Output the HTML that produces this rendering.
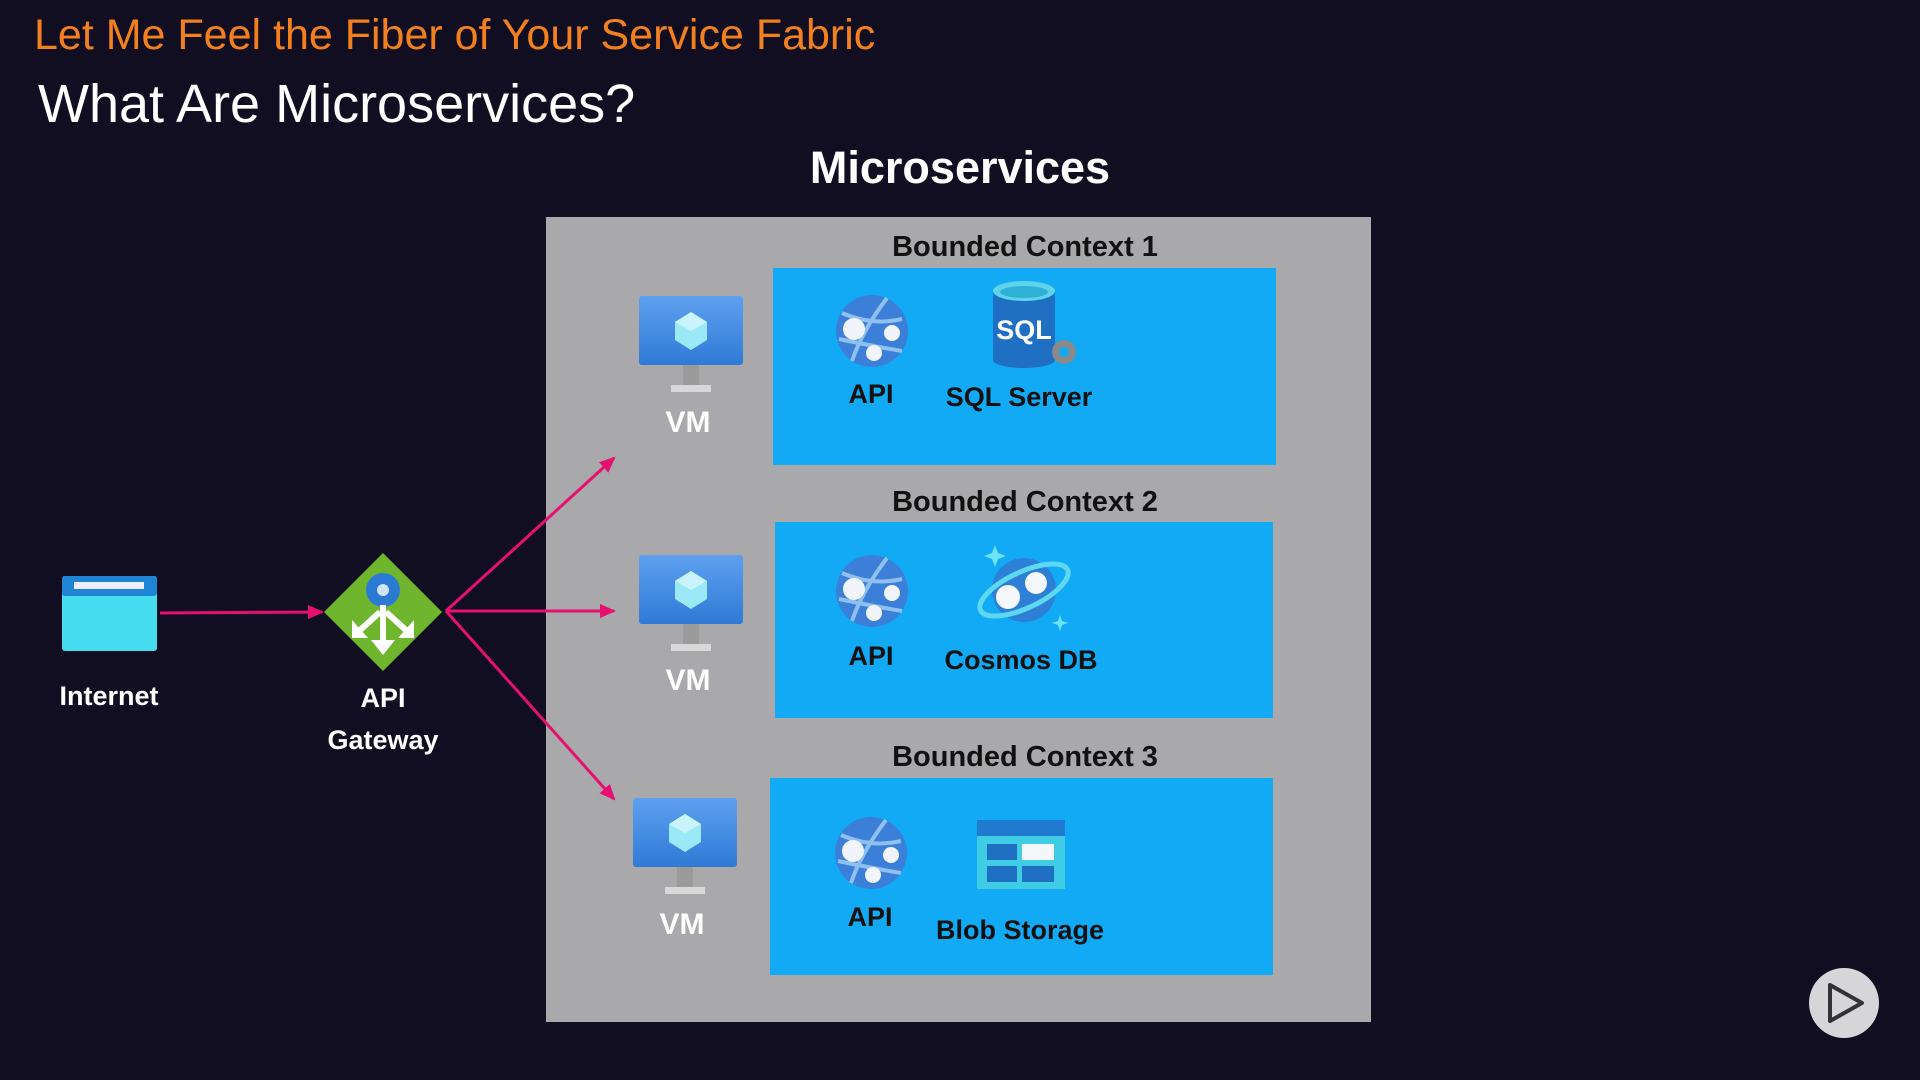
<!DOCTYPE html>
<html><head><meta charset="utf-8"><style>
body{margin:0;width:1920px;height:1080px;background:#120e22;overflow:hidden;font-family:"Liberation Sans",sans-serif;position:relative}
.t{position:absolute;white-space:nowrap}
.c{transform:translateX(-50%)}
.box{position:absolute;background:#12a9f5}
.lbl{font-weight:bold;font-size:27px;color:#111}
.w{font-weight:bold;font-size:27px;color:#fff}
</style></head><body>
<div class="t" style="left:34px;top:11px;font-size:43px;color:#f2801e">Let Me Feel the Fiber of Your Service Fabric</div>
<div class="t" style="left:38px;top:73px;font-size:54px;color:#fff">What Are Microservices?</div>
<div class="t c" style="left:960px;top:142px;font-size:45px;font-weight:bold;color:#fff">Microservices</div>
<div style="position:absolute;left:546px;top:217px;width:825px;height:805px;background:#a9a8ab"></div>
<div class="box" style="left:773px;top:268px;width:503px;height:197px"></div>
<div class="box" style="left:775px;top:522px;width:498px;height:196px"></div>
<div class="box" style="left:770px;top:778px;width:503px;height:197px"></div>
<div class="t c lbl" style="left:1025px;top:231px;font-size:29px">Bounded Context 1</div>
<div class="t c lbl" style="left:1025px;top:486px;font-size:29px">Bounded Context 2</div>
<div class="t c lbl" style="left:1025px;top:741px;font-size:29px">Bounded Context 3</div>
<svg width="1920" height="1080" style="position:absolute;left:0;top:0">
<defs>
<marker id="a" markerWidth="16" markerHeight="16" refX="14" refY="8" orient="auto" markerUnits="userSpaceOnUse"><path d="M0,1 L16,8 L0,15z" fill="#e5106f"/></marker>
<linearGradient id="vm" x1="0" y1="0" x2="0" y2="1"><stop offset="0" stop-color="#5ea0ef"/><stop offset="1" stop-color="#2f7ad6"/></linearGradient>
<g id="vmi"><rect x="0" y="0" width="104" height="69" rx="3" fill="url(#vm)"/><path d="M52,16 L68,26 L68,44 L52,54 L36,44 L36,26z" fill="#9be8f7"/><path d="M52,16 L68,26 L52,35 L36,26z" fill="#c9f4fb"/><rect x="44" y="69" width="16" height="22" fill="#9a9a9a"/><rect x="32" y="89" width="40" height="7" fill="#d8d8d8"/></g>
<g id="api"><circle r="36" fill="#3b7fd8"/><path d="M-30,-18 Q0,-5 30,-12 M-20,30 Q-10,0 15,-33 M-33,8 Q0,15 30,20" stroke="#8fc0f0" stroke-width="4" fill="none"/><circle cx="-18" cy="-2" r="11" fill="#f1f5fb"/><circle cx="20" cy="2" r="8" fill="#f1f5fb"/><circle cx="2" cy="22" r="8" fill="#f1f5fb"/></g>
</defs>
<g stroke="#e5106f" stroke-width="3" fill="none">
<line x1="160" y1="613" x2="322" y2="612" marker-end="url(#a)"/>
<line x1="446" y1="611" x2="614" y2="458" marker-end="url(#a)"/>
<line x1="446" y1="611" x2="614" y2="611" marker-end="url(#a)"/>
<line x1="446" y1="611" x2="614" y2="799" marker-end="url(#a)"/>
</g>
<rect x="62" y="576" width="95" height="75" rx="3" fill="#45dcf0"/><rect x="62" y="576" width="95" height="20" rx="3" fill="#1f84d4"/><rect x="74" y="582" width="70" height="7" fill="#eef"/>
<path d="M383,553 L442,612 L383,671 L324,612z" fill="#6fb62e"/>
<circle cx="383" cy="590" r="17" fill="#2a7ad4"/><circle cx="383" cy="590" r="6" fill="#cfe3fa"/>
<g stroke="#fff" stroke-width="6" fill="none"><line x1="383" y1="605" x2="383" y2="645"/><line x1="380" y1="612" x2="358" y2="632"/><line x1="386" y1="612" x2="408" y2="632"/></g>
<path d="M371,640 L395,640 L383,655z M352,620 L352,638 L368,638z M414,620 L414,638 L398,638z" fill="#fff"/>
<use href="#vmi" x="639" y="296"/><use href="#vmi" x="639" y="555"/><use href="#vmi" x="633" y="798"/>
<use href="#api" x="872" y="331"/><use href="#api" x="872" y="591"/><use href="#api" x="871" y="853"/>
<rect x="993" y="290" width="62" height="70" fill="#1f6fc2"/><ellipse cx="1024" cy="360" rx="31" ry="8" fill="#1f6fc2"/><ellipse cx="1024" cy="291" rx="31" ry="10" fill="#5fd3ea"/><ellipse cx="1024" cy="292" rx="24" ry="6" fill="#2fb0d6"/>
<text x="1024" y="339" font-family="Liberation Sans" font-weight="bold" font-size="27" fill="#fff" text-anchor="middle">SQL</text>
<circle cx="1064" cy="352" r="12" fill="#8a8a8a"/><circle cx="1064" cy="352" r="5" fill="#12a9f5"/>
<circle cx="1024" cy="590" r="32" fill="#2e7fd6"/><ellipse cx="1024" cy="590" rx="48" ry="18" transform="rotate(-25 1024 590)" stroke="#5ed7f0" stroke-width="5" fill="none"/><circle cx="1008" cy="597" r="12" fill="#f4f7fb"/><circle cx="1036" cy="583" r="11" fill="#f4f7fb"/>
<path d="M995,545 l3,8 8,3 -8,3 -3,8 -3,-8 -8,-3 8,-3z M1060,615 l2,6 6,2 -6,2 -2,6 -2,-6 -6,-2 6,-2z" fill="#6ee3f5"/>
<rect x="977" y="820" width="88" height="69" fill="#3fcde5"/><rect x="977" y="820" width="88" height="16" fill="#1f7ad0"/><rect x="987" y="844" width="30" height="16" fill="#1f6fc2"/><rect x="1022" y="844" width="32" height="16" fill="#f3f7fb"/><rect x="987" y="866" width="30" height="16" fill="#1f6fc2"/><rect x="1022" y="866" width="32" height="16" fill="#1f6fc2"/>
<circle cx="1844" cy="1003" r="35" fill="#d6d6d8"/><path d="M1830,985 L1862,1003 L1830,1021z" stroke="#333" stroke-width="4" fill="none" stroke-linejoin="round"/>
</svg>
<div class="t c w" style="left:109px;top:681px">Internet</div>
<div class="t c w" style="left:383px;top:683px">API</div>
<div class="t c w" style="left:383px;top:725px">Gateway</div>
<div class="t c w" style="left:688px;top:406px;font-size:30px">VM</div>
<div class="t c w" style="left:688px;top:664px;font-size:30px">VM</div>
<div class="t c w" style="left:682px;top:908px;font-size:30px">VM</div>
<div class="t c lbl" style="left:871px;top:379px">API</div>
<div class="t c lbl" style="left:1019px;top:382px">SQL Server</div>
<div class="t c lbl" style="left:871px;top:641px">API</div>
<div class="t c lbl" style="left:1021px;top:645px">Cosmos DB</div>
<div class="t c lbl" style="left:870px;top:902px">API</div>
<div class="t c lbl" style="left:1020px;top:915px">Blob Storage</div>
</body></html>
